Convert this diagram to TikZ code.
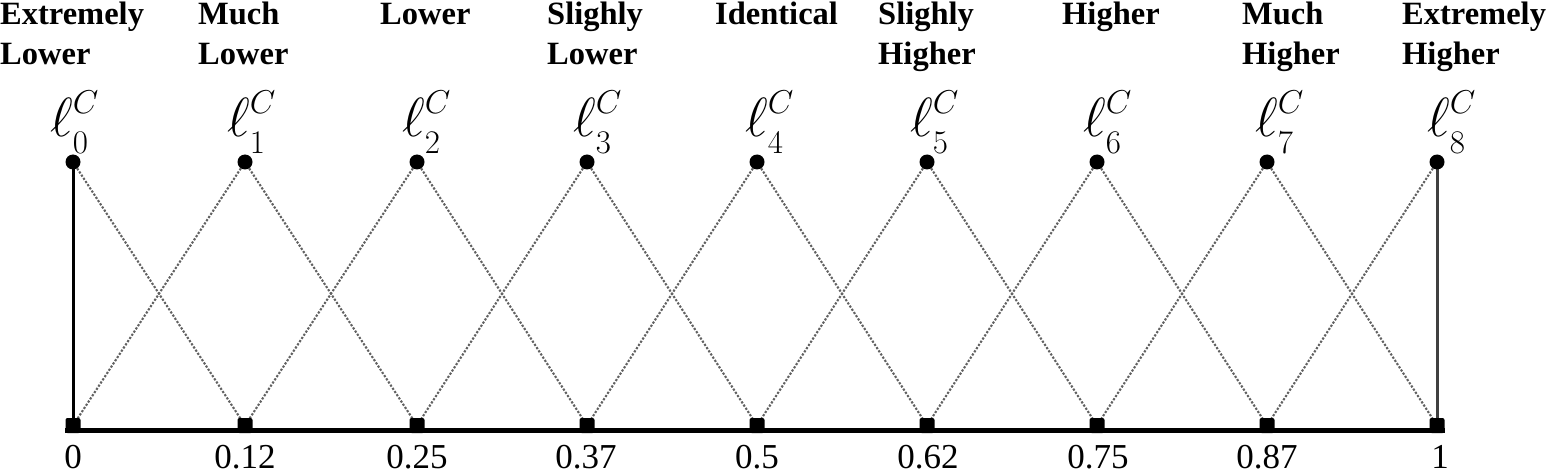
\RequirePackage{fix-cm}
\documentclass[tikz,border=0pt]{standalone}
\usepackage{fontspec}
\setmainfont{Liberation Serif}
\usepackage{graphicx}
\usetikzlibrary{backgrounds}
\tikzset{
  topdot/.style={circle,fill=black,inner sep=0pt,minimum size=15pt},
  botdot/.style={rectangle,rounded corners=2pt,fill=black,inner sep=0pt,minimum width=15pt,minimum height=15pt},
  catlabel/.style={anchor=base west,inner sep=0pt,font=\fontsize{32.5}{40}\selectfont\bfseries},
  elabel/.style={anchor=base west,inner sep=0pt,font=\fontsize{46}{50}\selectfont},
  numlabel/.style={anchor=base,inner sep=0pt,font=\fontsize{35}{38}\selectfont},
  member/.style={draw=black!62,line width=2.1pt,dash pattern=on 2.2pt off 1.6pt},
  axisline/.style={draw=black,line width=5pt},
  leftedge/.style={draw=black,line width=3pt},
  rightedge/.style={draw=black!75,line width=3pt},
}
\newcommand{\lab}[1]{\begin{tabular}[t]{@{}l@{}}#1\end{tabular}}
\newcommand{\scr}[1]{\mbox{\fontsize{33}{33}\selectfont$#1$}}
\newcommand{\ellC}[1]{$\mathord{\scalebox{1.2}{$\ell$}}^{\raisebox{-2pt}{\scr{C}}}_{\raisebox{-5pt}{\scr{#1}}}$}
\begin{document}
\begin{tikzpicture}[x=1pt,y=-1pt]
\useasboundingbox (0,0) rectangle (1548,473);
% dots
\foreach \i/\x in {0/73,1/245,2/417,3/587,4/757,5/927,6/1097,7/1267,8/1437}{
  \node[topdot] (t\i) at (\x,162) {};
  \node[botdot] (b\i) at (\x,425.5) {};
}
% membership lines
\begin{scope}[on background layer]
\foreach \i/\j in {0/1,1/2,2/3,3/4,4/5,5/6,6/7,7/8}{
  \draw[member] (t\i.center) -- (b\j.center);
  \draw[member] (t\j.center) -- (b\i.center);
}
\draw[leftedge] (t0.center) -- (b0.center);
\draw[rightedge] (t8.center) -- (b8.center);
\end{scope}
\draw[axisline] ([yshift=2.5pt]b0.south west) -- ([yshift=2.5pt]b8.south east);
% category labels
\node[catlabel] (c0) at (0,25) {\lab{Extremely\\Lower}};
\node[catlabel] (c1) at (198,25) {\lab{Much\\Lower}};
\node[catlabel] (c2) at (380,25) {\lab{Lower}};
\node[catlabel] (c3) at (547,25) {\lab{Slighly\\Lower}};
\node[catlabel] (c4) at (715,25) {\lab{Identical}};
\node[catlabel] (c5) at (878,25) {\lab{Slighly\\Higher}};
\node[catlabel] (c6) at (1062,25) {\lab{Higher}};
\node[catlabel] (c7) at (1242,25) {\lab{Much\\Higher}};
\node[catlabel] (c8) at (1402,25) {\lab{Extremely\\Higher}};
% linguistic term labels
\foreach \i/\x in {0/50,1/227,2/402,3/573,4/745,5/910,6/1083,7/1255,8/1427}{
  \node[elabel] (l\i) at (\x,137) {\ellC{\i}};
}
% numbers
\foreach \i/\x/\v in {0/73/0,1/245/0.12,2/417/0.25,3/586/0.37,4/757/0.5,5/928/0.62,6/1098/0.75,7/1267/0.87,8/1440/1}{
  \node[numlabel] (n\i) at (\x,468) {\v};
}
\end{tikzpicture}
\end{document}
